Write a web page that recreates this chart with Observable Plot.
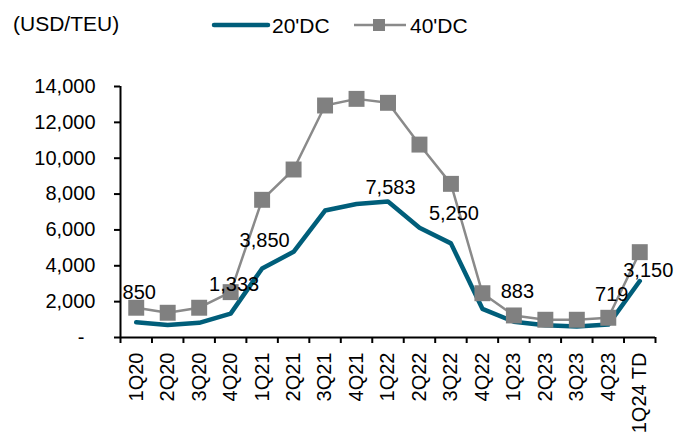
<!DOCTYPE html>
<html>
<head>
<meta charset="utf-8">
<script src="https://cdn.jsdelivr.net/npm/d3@7"></script>
<script src="https://cdn.jsdelivr.net/npm/@observablehq/plot@0.6"></script>
<style>
  html, body { margin: 0; padding: 0; background: #fff; }
  body { width: 689px; height: 440px; overflow: hidden; font-family: "Liberation Sans", Arial, sans-serif; }
  #header { position: relative; width: 689px; height: 45px; font-size: 21px; color: #000; }
  #header .t { position: absolute; line-height: 21px; white-space: nowrap; }
  #header svg { position: absolute; }
</style>
</head>
<body>
<div id="header"></div>
<div id="chart"></div>
<script>
// ---- data ----
const categories = ["1Q20","2Q20","3Q20","4Q20","1Q21","2Q21","3Q21","4Q21","1Q22","2Q22","3Q22","4Q22","1Q23","2Q23","3Q23","4Q23","1Q24 TD"];
const dc20 = [850, 700, 820, 1333, 3850, 4780, 7080, 7450, 7583, 6120, 5250, 1600, 883, 680, 620, 719, 3150];
const dc40 = [1660, 1380, 1660, 2530, 7680, 9370, 12940, 13310, 13090, 10760, 8570, 2470, 1230, 990, 990, 1100, 4760];
const labelIndex = [0, 3, 4, 8, 10, 12, 15, 16];
const yTicks = [0, 2000, 4000, 6000, 8000, 10000, 12000, 14000];
const seriesNames = ["20'DC", "40'DC"];
const unitLabel = "(USD/TEU)";

// ---- styles ----
const teal = "#005E7A";
const gray = "#808080";
const grayLine = "#8A8A8A";
// per-label nudges [dx, dy] in pixels
const labelOffsets = [[3,-30],[3.5,-29],[2.5,-28],[2.5,-14],[3,-30],[3.5,-30],[3.5,-30],[8.5,-10]];

// ---- header (title + legend) ----
const header = document.getElementById("header");
header.innerHTML = `
  <div class="t" style="left:13px;top:12.5px">${unitLabel}</div>
  <svg style="left:208px;top:15px" width="65" height="20"><line x1="6" y1="10" x2="60" y2="10" stroke="${teal}" stroke-width="4.5" stroke-linecap="round"/></svg>
  <div class="t" style="left:272px;top:15px">${seriesNames[0]}</div>
  <svg style="left:350px;top:15px" width="60" height="20"><line x1="4" y1="10" x2="56" y2="10" stroke="${grayLine}" stroke-width="2.5"/><rect x="23" y="4" width="12" height="12" fill="${gray}"/></svg>
  <div class="t" style="left:410px;top:15px">${seriesNames[1]}</div>
`;

// ---- chart ----
const idx = d3.range(categories.length);
const rows20 = idx.map(i => ({i, v: dc20[i]}));
const rows40 = idx.map(i => ({i, v: dc40[i]}));
const fmt = d3.format(",");
const xDomain = [-0.5, categories.length - 0.5];

const labelMarks = labelIndex.map((i, k) => Plot.text([{i, v: dc20[i]}], {
  x: "i", y: "v", text: d => fmt(d.v),
  dx: labelOffsets[k][0], dy: labelOffsets[k][1],
  fontSize: 20, fill: "#000", textAnchor: "middle", lineAnchor: "middle"
}));

const chart = Plot.plot({
  width: 689, height: 395, marginTop: 41, marginBottom: 103,
  marginLeft: 120, marginRight: 34,
  style: { fontFamily: '"Liberation Sans", Arial, sans-serif', fontSize: "20px", color: "#000", background: "#fff" },
  x: { type: "linear", domain: xDomain },
  y: { domain: [0, 14000] },
  marks: [
    Plot.axisY({ ticks: yTicks, tickFormat: d => d === 0 ? "-\u00a0\u00a0" : fmt(d), tickSize: 6, tickPadding: 19, strokeWidth: 2, label: null, fontSize: 20 }),
    Plot.axisX({ ticks: d3.range(-0.5, categories.length, 1), tickFormat: () => "", tickSize: 6, strokeWidth: 2, label: null }),
    Plot.axisX({ ticks: idx, tickFormat: i => categories[i], tickSize: 0, tickPadding: 15, tickRotate: -90, label: null, fontSize: 20 }),
    Plot.ruleX([xDomain[0]], { y1: 0, y2: 14000, stroke: "#000", strokeWidth: 2 }),
    Plot.ruleY([0], { x1: xDomain[0], x2: xDomain[1], stroke: "#000", strokeWidth: 2 }),
    Plot.line(rows20, { x: "i", y: "v", stroke: teal, strokeWidth: 4.5, strokeLinejoin: "round", strokeLinecap: "round" }),
    Plot.line(rows40, { x: "i", y: "v", stroke: grayLine, strokeWidth: 2.5, strokeLinejoin: "round" }),
    Plot.dot(rows40, { x: "i", y: "v", symbol: "square", r: 9, fill: gray, stroke: "none" }),
    ...labelMarks
  ]
});
document.getElementById("chart").appendChild(chart);
</script>
</body>
</html>
